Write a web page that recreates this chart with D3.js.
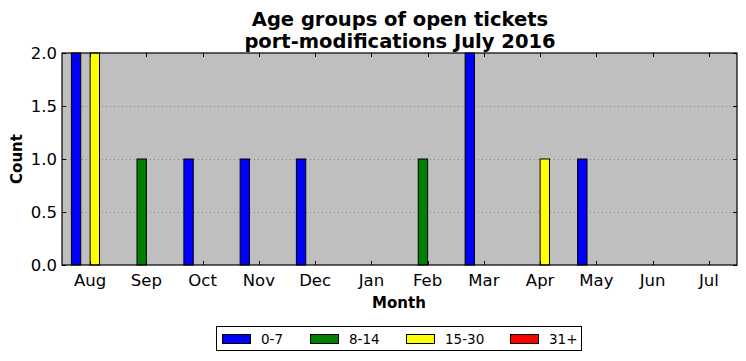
<!DOCTYPE html>
<html>
<head>
<meta charset="utf-8">
<script src="https://cdn.jsdelivr.net/npm/d3@7"></script>
<style>
  body { margin: 0; background: #ffffff; }
  svg { display: block; font-family: "DejaVu Sans", sans-serif; }
</style>
</head>
<body>
<svg id="chart" width="746" height="361"></svg>
<script>
var months = ['Aug','Sep','Oct','Nov','Dec','Jan','Feb','Mar','Apr','May','Jun','Jul'];
var groups = ['0-7','8-14','15-30','31+'];
var cols = ['#0000ff','#008000','#ffff00','#ff0000'];
var age0_7   = [2,0,1,1,1,0,0,2,0,1,0,0];
var age8_14  = [0,1,0,0,0,0,1,0,0,0,0,0];
var age15_30 = [2,0,0,0,0,0,0,0,1,0,0,0];
var age31    = [0,0,0,0,0,0,0,0,0,0,0,0];
var series = [age0_7, age8_14, age15_30, age31];
var yTicks = [0, 0.5, 1.0, 1.5, 2.0];

var svg = d3.select('#chart');
var pLeft = 62, pRight = 737, pTop = 53, pBottom = 265;

var x = d3.scaleBand().domain(months).range([pLeft, pRight]);
var y = d3.scaleLinear().domain([0, 2]).range([pBottom, pTop]);
var bw = x.bandwidth() / 6;

// plot background
svg.append('rect')
  .attr('x', pLeft).attr('y', pTop)
  .attr('width', pRight - pLeft).attr('height', pBottom - pTop)
  .attr('fill', '#bfbfbf');

// horizontal grid
svg.selectAll('line.grid').data(yTicks.slice(1, 4)).enter().append('line')
  .attr('x1', pLeft).attr('x2', pRight)
  .attr('y1', function(d){ return Math.round(y(d)) + 0.5; })
  .attr('y2', function(d){ return Math.round(y(d)) + 0.5; })
  .attr('stroke', '#808080')
  .attr('stroke-width', 1)
  .attr('stroke-dasharray', '1,3');

// bars
series.forEach(function(vals, si){
  svg.selectAll('rect.s' + si).data(vals).enter().append('rect')
    .attr('x', function(d, i){ return x(months[i]) + x.bandwidth() / 2 - 2 * bw + si * bw; })
    .attr('y', function(d){ return y(d); })
    .attr('width', bw)
    .attr('height', function(d){ return y(0) - y(d); })
    .attr('fill', cols[si])
    .attr('stroke', '#000000')
    .attr('stroke-width', 1);
});

// frame
svg.append('rect')
  .attr('x', pLeft).attr('y', pTop)
  .attr('width', pRight - pLeft).attr('height', pBottom - pTop)
  .attr('fill', 'none').attr('stroke', '#000000').attr('stroke-width', 1.2);

// ticks (inside, classic style)
months.forEach(function(m){
  var cx = Math.round(x(m) + x.bandwidth() / 2) + 0.5;
  svg.append('line').attr('x1', cx).attr('x2', cx).attr('y1', pBottom).attr('y2', pBottom - 4).attr('stroke', '#000');
  svg.append('line').attr('x1', cx).attr('x2', cx).attr('y1', pTop).attr('y2', pTop + 4).attr('stroke', '#000');
  svg.append('text')
    .attr('x', x(m) + x.bandwidth() / 2).attr('y', pBottom + 21)
    .attr('text-anchor', 'middle')
    .attr('font-size', '16.5px')
    .text(m);
});
yTicks.forEach(function(t){
  var cy = Math.round(y(t)) + 0.5;
  svg.append('line').attr('x1', pLeft).attr('x2', pLeft + 4).attr('y1', cy).attr('y2', cy).attr('stroke', '#000');
  svg.append('line').attr('x1', pRight).attr('x2', pRight - 4).attr('y1', cy).attr('y2', cy).attr('stroke', '#000');
  svg.append('text')
    .attr('x', pLeft - 5).attr('y', y(t) + 6)
    .attr('text-anchor', 'end')
    .attr('font-size', '16.5px')
    .text(d3.format('.1f')(t));
});

// titles
svg.append('text').attr('x', 400).attr('y', 26).attr('text-anchor', 'middle')
  .attr('font-size', '19.5px').attr('font-weight', 'bold').text('Age groups of open tickets');
svg.append('text').attr('x', 400).attr('y', 48).attr('text-anchor', 'middle')
  .attr('font-size', '19.5px').attr('font-weight', 'bold').text('port-modifications July 2016');

svg.append('text').attr('x', 399).attr('y', 308).attr('text-anchor', 'middle')
  .attr('font-size', '15px').attr('font-weight', 'bold').text('Month');
svg.append('text').attr('transform', 'translate(22,159) rotate(-90)').attr('text-anchor', 'middle')
  .attr('font-size', '15px').attr('font-weight', 'bold').text('Count');

// legend
svg.append('rect').attr('x', 216.5).attr('y', 326.5).attr('width', 365).attr('height', 24)
  .attr('fill', '#fff').attr('stroke', '#000').attr('stroke-width', 1);
var legX = [222, 310, 406, 510];
groups.forEach(function(g, i){
  svg.append('rect').attr('x', legX[i] + 0.5).attr('y', 334.5).attr('width', 28).attr('height', 9)
    .attr('fill', cols[i]).attr('stroke', '#000').attr('stroke-width', 1);
  svg.append('text').attr('x', legX[i] + 39).attr('y', 344)
    .attr('font-size', '13.5px').text(g);
});
</script>
</body>
</html>
